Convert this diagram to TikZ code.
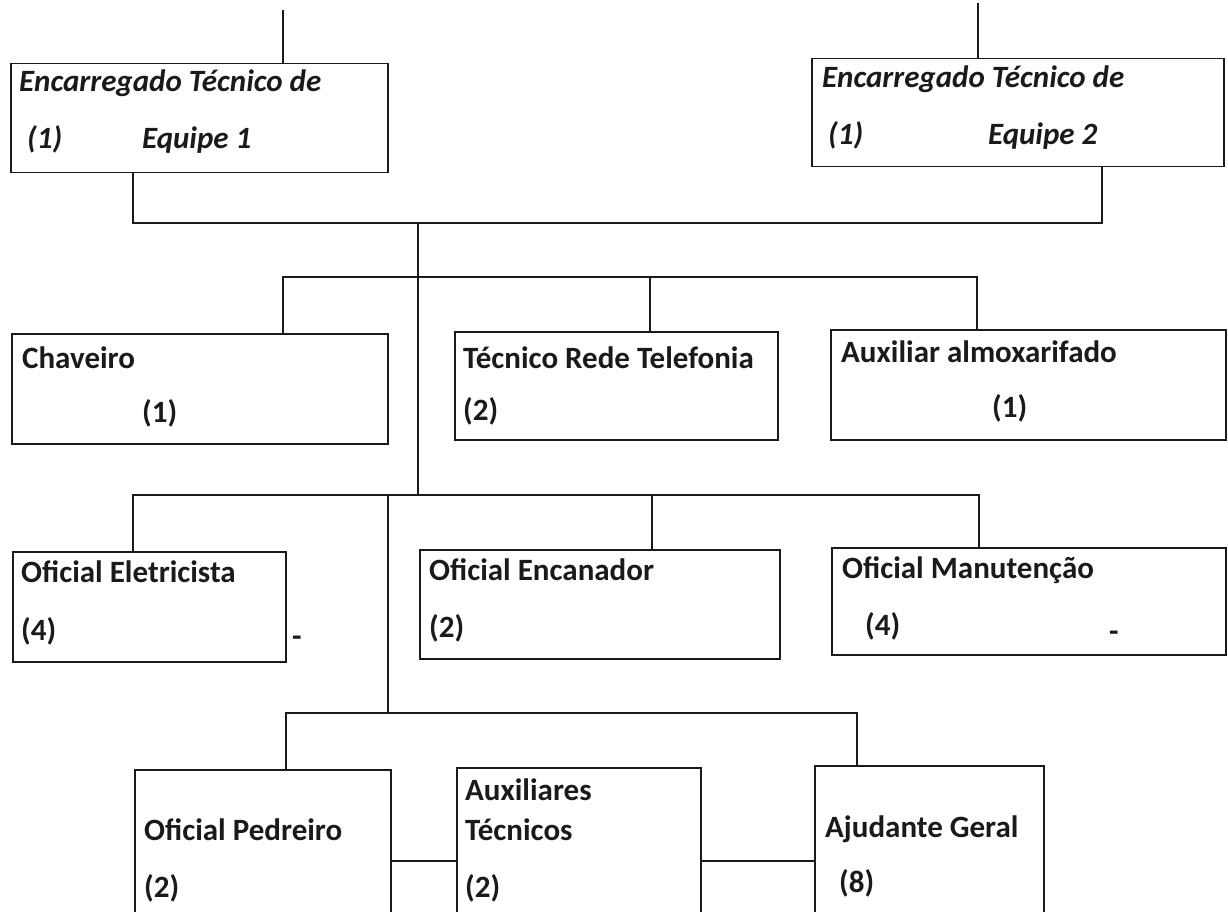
\documentclass[tikz,border=0pt]{standalone}
\usepackage{fontspec}
\setmainfont{Carlito}
\definecolor{ink}{HTML}{1A1A1A}
\begin{document}
\begin{tikzpicture}[x=1pt,y=-1pt,
  box/.style={draw=ink,line width=1.5pt,rectangle,inner sep=0pt,anchor=north west},
  thickbox/.style={box,line width=2.4pt},
  link/.style={draw=ink,line width=1.3pt},
  lbl/.style={anchor=base west,inner sep=0pt,text=ink,font=\fontsize{31}{37}\selectfont\bfseries},
  ilbl/.style={lbl,font=\fontsize{31}{37}\selectfont\bfseries\itshape}]
\useasboundingbox (0,0) rectangle (1228,912);
\begin{scope}
\clip (0,0) rectangle (1228,912);
% boxes
\node[box,minimum width=377pt,minimum height=109pt] (enc1) at (10,63) {};
\node[box,minimum width=412pt,minimum height=108pt] (enc2) at (811,58) {};
\node[box,minimum width=376pt,minimum height=110pt] (cha) at (11,333) {};
\node[box,minimum width=323pt,minimum height=108pt] (tec) at (454,331) {};
\node[thickbox,minimum width=395pt,minimum height=110pt] (alm) at (830,329) {};
\node[thickbox,minimum width=273pt,minimum height=110pt] (ele) at (12,551) {};
\node[thickbox,minimum width=360pt,minimum height=109pt] (enc) at (419,549) {};
\node[box,minimum width=394pt,minimum height=107pt] (man) at (831,547) {};
\node[box,minimum width=256pt,minimum height=200pt] (ped) at (134,769) {};
\node[box,minimum width=244pt,minimum height=200pt] (aux) at (456,767) {};
\node[box,minimum width=229pt,minimum height=200pt] (aju) at (814,765) {};
% junction coordinates
\coordinate (top1) at (283,10);
\coordinate (top2) at (978,3);
\coordinate (b1L) at (133,223);
\coordinate (b1R) at (1102,223);
\coordinate (t1) at (418,223);
\coordinate (t2) at (418,495);
\coordinate (b2L) at (283,277);
\coordinate (b2M) at (650,277);
\coordinate (b2R) at (977,277);
\coordinate (b3L) at (133,495);
\coordinate (b3M) at (652,495);
\coordinate (b3R) at (979,495);
\coordinate (t3) at (388,495);
\coordinate (t4) at (388,713);
\coordinate (b4L) at (286,713);
\coordinate (b4R) at (857,713);
\coordinate (h1) at (0,861);
% connectors
\draw[link] (top1) -- (top1 |- enc1.north);
\draw[link] (top2) -- (top2 |- enc2.north);
\draw[link] (b1L |- enc1.south) -- (b1L) -- (b1R) -- (b1R |- enc2.south);
\draw[link] (t1) -- (t2);
\draw[link] (b2L |- cha.north) -- (b2L) -- (b2R) -- (b2R |- alm.north);
\draw[link] (b2M) -- (b2M |- tec.north);
\draw[link] (b3L |- ele.north) -- (b3L) -- (b3R) -- (b3R |- man.north);
\draw[link] (b3M) -- (b3M |- enc.north);
\draw[link] (t3) -- (t4);
\draw[link] (b4L |- ped.north) -- (b4L) -- (b4R) -- (b4R |- aju.north);
\draw[link] (h1 -| ped.east) -- (h1 -| aux.west);
\draw[link] (h1 -| aux.east) -- (h1 -| aju.west);
% texts
\node[ilbl] (e1a) at (19,92) {Encarregado Técnico de};
\node[ilbl] (e1b) at (27,149) {(1)};
\node[ilbl] (e1c) at (142,149) {Equipe 1};
\node[ilbl] (e2a) at (822,88) {Encarregado Técnico de};
\node[ilbl] (e2b) at (828,145) {(1)};
\node[ilbl] (e2c) at (988,145) {Equipe 2};
\node[lbl] (cha1) at (22,368) {Chaveiro};
\node[lbl] (cha2) at (142,422) {(1)};
\node[lbl] (tec1) at (463,368) {Técnico Rede Telefonia};
\node[lbl] (tec2) at (463,420) {(2)};
\node[lbl] (alm1) at (841,362) {Auxiliar almoxarifado};
\node[lbl] (alm2) at (992,417) {(1)};
\node[lbl] (ele1) at (21,582) {Oficial Eletricista};
\node[lbl] (ele2) at (21,640) {(4)};
\node[lbl] (ele3) at (292,646) {-};
\node[lbl] (enc1t) at (429,580) {Oficial Encanador};
\node[lbl] (enc2t) at (429,637) {(2)};
\node[lbl] (man1) at (842,578) {Oficial Manutenção};
\node[lbl] (man2) at (865,635) {(4)};
\node[lbl] (man3) at (1109,641) {-};
\node[lbl] (ped1) at (144,840) {Oficial Pedreiro};
\node[lbl] (ped2) at (144,897) {(2)};
\node[lbl] (aux1) at (465,800) {Auxiliares};
\node[lbl] (aux2) at (465,840) {Técnicos};
\node[lbl] (aux3) at (465,897) {(2)};
\node[lbl] (aju1) at (825,837) {Ajudante Geral};
\node[lbl] (aju2) at (839,892) {(8)};
\end{scope}
\end{tikzpicture}
\end{document}
